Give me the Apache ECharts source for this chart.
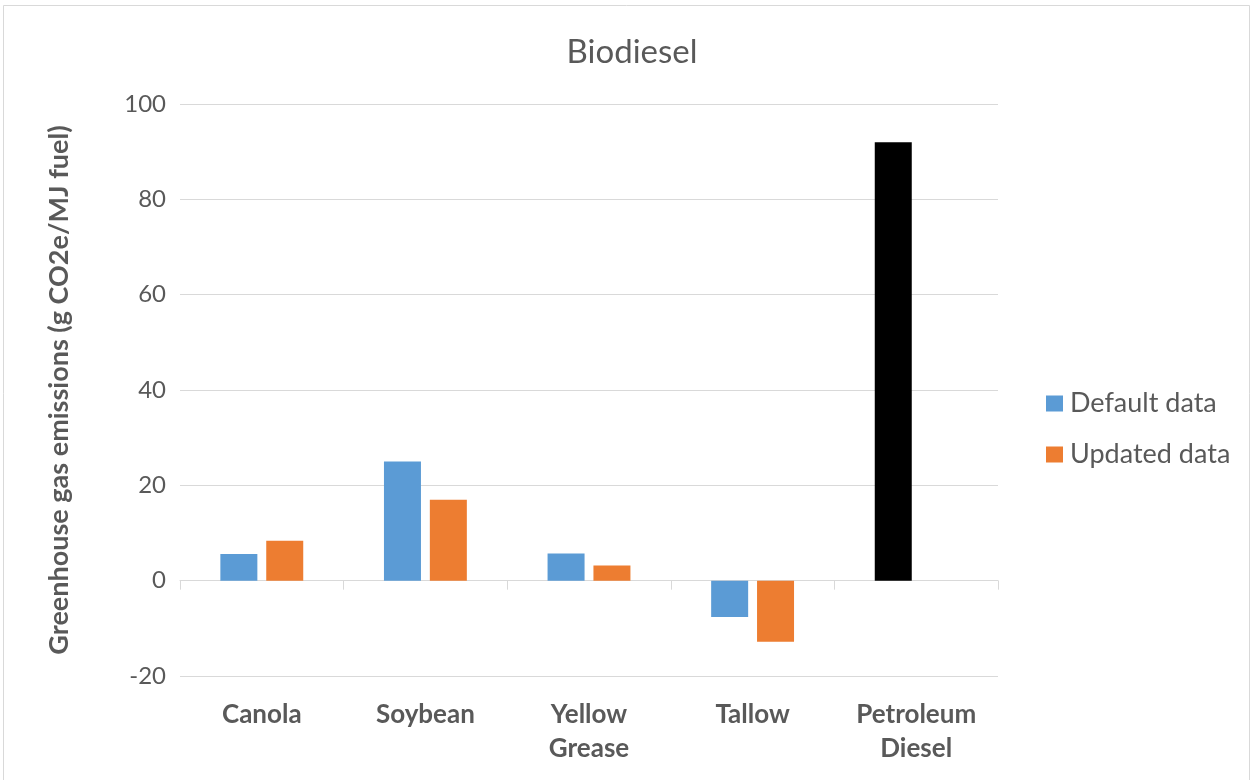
<!DOCTYPE html>
<html>
<head>
<meta charset="utf-8">
<title>Biodiesel</title>
<script src="https://cdn.jsdelivr.net/npm/echarts@6/dist/echarts.min.js"></script>
<style>
  html, body { margin: 0; padding: 0; background: #ffffff; }
  #chart { width: 1253px; height: 780px; }
</style>
</head>
<body>
<div id="chart"></div>
<script>
// Life-cycle greenhouse gas emissions by fuel pathway
const categories = ['Canola', 'Soybean', 'Yellow\nGrease', 'Tallow', 'Petroleum\nDiesel'];
const defaultData = [5.6, 25.0, 5.7, -7.6, 92.0];
const updatedData = [8.4, 17.0, 3.2, -12.8, null];
const yTicks = { min: -20, max: 100, interval: 20 };

const TEXT = '#595959';
const GRID = '#d9d9d9';
const FONT = 'Lato, "Open Sans", sans-serif';

const chart = echarts.init(document.getElementById('chart'));

// Petroleum diesel is the reference fuel and is drawn in black
const defaultSeriesData = defaultData.map((v, i) =>
  i === categories.length - 1 ? { value: v, itemStyle: { color: '#000000' } } : v
);

chart.setOption({
  backgroundColor: '#ffffff',
  animation: false,
  textStyle: { fontFamily: FONT },
  graphic: [{
    type: 'rect',
    shape: { x: 3.5, y: 5.5, width: 1246, height: 800 },
    style: { fill: 'none', stroke: '#d9d9d9', lineWidth: 1 },
    silent: true
  }],
  title: {
    text: 'Biodiesel',
    left: 627,
    textAlign: 'center',
    top: 31,
    textStyle: { color: TEXT, fontSize: 33, fontWeight: 'normal', fontFamily: FONT }
  },
  legend: {
    orient: 'vertical',
    left: 1041,
    top: 383,
    icon: 'rect',
    itemWidth: 17,
    itemHeight: 16,
    itemGap: 20,
    textStyle: { color: TEXT, fontSize: 27, fontFamily: FONT, lineHeight: 31, padding: [0, 0, 0, 2] },
    data: ['Default data', 'Updated data']
  },
  grid: { left: 180, right: 255, top: 104, bottom: 104 },
  xAxis: [{
    type: 'category',
    data: categories,
    position: 'bottom',
    axisLine: { show: false, onZero: false },
    axisTick: { show: false },
    axisLabel: {
      color: TEXT, fontSize: 26, fontWeight: 'bold', fontFamily: FONT,
      lineHeight: 34, margin: 22, interval: 0
    }
  }, {
    // zero baseline with boundary ticks
    type: 'category',
    data: categories,
    position: 'top',
    axisLine: { show: true, onZero: true, lineStyle: { color: GRID, width: 1 } },
    axisTick: { show: true, inside: true, length: 9, lineStyle: { color: GRID, width: 1 } },
    axisLabel: { show: false }
  }],
  yAxis: {
    type: 'value',
    min: yTicks.min,
    max: yTicks.max,
    interval: yTicks.interval,
    name: 'Greenhouse gas emissions (g CO2e/MJ fuel)',
    nameLocation: 'middle',
    nameGap: 107,
    nameTextStyle: { color: TEXT, fontSize: 27, fontWeight: 'bold', fontFamily: FONT },
    axisLine: { show: false },
    axisTick: { show: false },
    axisLabel: { color: TEXT, fontSize: 24, fontFamily: FONT, margin: 14 },
    splitLine: { lineStyle: { color: GRID, width: 1 } }
  },
  series: [{
    name: 'Default data',
    type: 'bar',
    xAxisIndex: 0,
    data: defaultSeriesData,
    barWidth: 37,
    barGap: '24%',
    itemStyle: { color: '#5b9bd5' }
  }, {
    name: 'Updated data',
    type: 'bar',
    xAxisIndex: 0,
    data: updatedData,
    barWidth: 37,
    barGap: '24%',
    itemStyle: { color: '#ed7d31' }
  }]
});
</script>
</body>
</html>
